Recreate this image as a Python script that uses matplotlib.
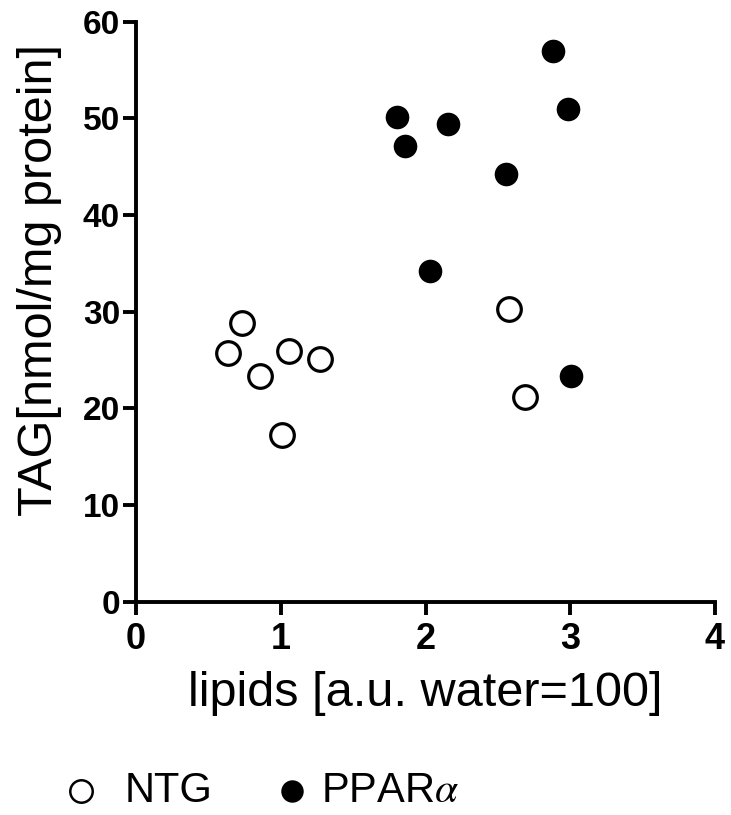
import matplotlib
matplotlib.use("Agg")
import matplotlib.pyplot as plt

plt.rcParams['font.family'] = ['Liberation Sans', 'DejaVu Sans']
plt.rcParams['mathtext.fontset'] = 'stix'

# Data
ntg_x = [0.635, 0.733, 0.854, 1.055, 1.274, 1.007, 2.58, 2.686]
ntg_y = [25.7, 28.8, 23.3, 25.9, 25.1, 17.2, 30.3, 21.2]
ppar_x = [1.803, 1.856, 2.155, 2.033, 2.554, 2.884, 2.985, 3.006]
ppar_y = [50.1, 47.1, 49.4, 34.2, 44.2, 56.96, 51.0, 23.3]
x_ticks = [0, 1, 2, 3, 4]
y_ticks = [0, 10, 20, 30, 40, 50, 60]
labels = ["NTG", "PPAR$\\alpha$"]

W, H = 731, 815
fig = plt.figure(figsize=(W / 100, H / 100), dpi=100)
ax = fig.add_axes([136 / W, 1 - 601.5 / H, (715 - 136) / W, (601.5 - 21.7) / H])

h1 = ax.scatter(ntg_x, ntg_y, s=17**2, facecolors='white', edgecolors='black',
                linewidths=2.3, clip_on=False, zorder=3, label=labels[0])
h2 = ax.scatter(ppar_x, ppar_y, s=17**2, facecolors='black', edgecolors='black',
                linewidths=0, clip_on=False, zorder=3, label=labels[1])

ax.set_xlim(0, 4)
ax.set_ylim(0, 60)
ax.set_xticks(x_ticks)
ax.set_yticks(y_ticks)
for s in ['top', 'right']:
    ax.spines[s].set_visible(False)
for s in ['left', 'bottom']:
    ax.spines[s].set_linewidth(2.8)
ax.tick_params(direction='out', length=9.5, width=2.8)
ax.tick_params(axis='x', labelsize=26, pad=5.5)
ax.tick_params(axis='y', labelsize=24, pad=2)
for lbl in ax.get_xticklabels() + ax.get_yticklabels():
    lbl.set_fontweight('bold')

ax.set_xlabel("lipids [a.u. water=100]", fontsize=35)
ax.xaxis.set_label_coords(0.5, (601.5 - 671) / 579.8)
ax.set_ylabel("TAG[nmol/mg protein]", fontsize=35)
ax.yaxis.set_label_coords((62 - 136) / 579, (601.5 - 280) / 579.8)

fs = 30
ly = 1 - 791 / H
leg1 = fig.legend(handles=[h1], labels=[labels[0]], loc='center left',
                  bbox_to_anchor=(23 / W, ly), frameon=False, fontsize=fs,
                  markerscale=0.95, handletextpad=0.54, handlelength=1.0)
leg2 = fig.legend(handles=[h2], labels=[labels[1]], loc='center left',
                  bbox_to_anchor=(234 / W, ly), frameon=False, fontsize=fs,
                  markerscale=0.95, handletextpad=0.19, handlelength=1.0)
leg1.legend_handles[0].set_linewidth(1.8)

fig.savefig("out.png", dpi=100)
